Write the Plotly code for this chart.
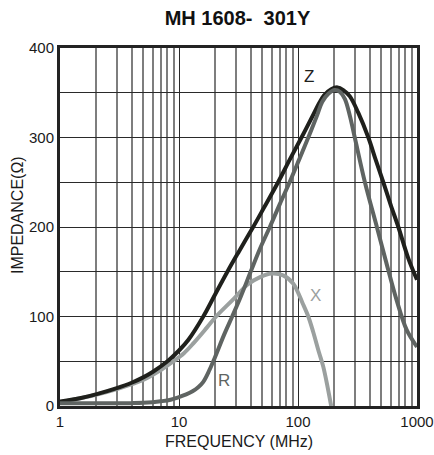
import numpy as np
import plotly.graph_objects as go

# Impedance curves (frequency in MHz, ohms)
freq_z = [1, 1.5, 2, 3, 4, 5, 6, 8, 10, 12, 16, 20, 25.5, 32, 42, 52, 68, 85, 107, 135,
          150, 165, 190, 215, 240, 273, 320, 390, 450, 521, 600, 697, 845, 1000]
imp_z = [5, 9, 13, 20, 26, 32, 38, 50, 62, 74, 100, 124, 150, 173, 200, 222, 250, 275, 300, 326,
         338, 347, 354, 356, 353, 346, 328, 300, 275, 250, 225, 200, 165, 141]

freq_r = [1, 2, 3, 4, 5, 6, 7, 8.5, 10, 11.5, 13, 14.5, 16, 18, 20, 24, 28, 33, 40, 48, 58,
          70, 85, 102, 122, 145, 160, 180, 204, 225, 248, 273, 300, 365, 460, 545, 675, 819, 1000]
imp_r = [3, 3, 3, 3.2, 3.5, 4.2, 5.2, 7, 10, 13, 16.5, 21, 27, 40, 54, 80, 100, 122, 150, 176, 200,
         225, 250, 275, 300, 325, 340, 349, 353, 351, 343, 324, 300, 250, 200, 163, 118, 85, 66]

freq_x = [1, 2, 3, 5, 7, 9, 11, 13.2, 17, 20.5, 28, 38, 48, 60, 75, 91, 110, 122,
          134, 150, 163, 178, 190]
imp_x = [4, 12.5, 19, 29, 40, 50, 59, 70, 87, 100, 118, 136, 144, 148, 146, 137, 114, 100,
         83, 60, 44, 20, 0]

curve_labels = ["Z", "X", "R"]
label_freq = [124, 139, 23.9]
label_imp = [368, 124, 28]

x_ticks = [1, 10, 100, 1000]
x_minor = [m * d for d in (1, 10, 100) for m in range(2, 10)]

C_Z = "#1f201c"
C_R = "#5f6462"
C_X = "#9ba09f"
FONT = "Liberation Sans, Arial, sans-serif"

fig = go.Figure()
fig.add_trace(go.Scatter(x=freq_x, y=imp_x, mode="lines", line=dict(color=C_X, width=4, shape="spline", smoothing=1)))
fig.add_trace(go.Scatter(x=freq_z, y=imp_z, mode="lines", line=dict(color=C_Z, width=4, shape="spline", smoothing=1)))
fig.add_trace(go.Scatter(x=freq_r, y=imp_r, mode="lines", line=dict(color=C_R, width=4, shape="spline", smoothing=1)))

for txt, f, v, c in zip(curve_labels, label_freq, label_imp, [C_Z, C_X, C_R]):
    fig.add_annotation(x=np.log10(f), y=v, text=txt, showarrow=False,
                       font=dict(family=FONT, size=17, color=c))

fig.update_xaxes(type="log", range=[0, 3], tickvals=x_ticks, ticktext=["1", "10", "100", "1000"],
                 showgrid=True, gridcolor="#2a2a2a", gridwidth=1.3,
                 minor=dict(tickvals=x_minor, showgrid=True, gridcolor="#7e7e7e", gridwidth=1.5),
                 showline=True, mirror=True, linecolor="#232323", linewidth=3, automargin=False,
                 ticks="", tickfont=dict(family=FONT, size=15, color="#1a1a1a"), zeroline=False)
fig.update_yaxes(range=[0, 400], dtick=100, showgrid=True, gridcolor="#2a2a2a", gridwidth=1.3,
                 minor=dict(dtick=50, showgrid=True, gridcolor="#2a2a2a", gridwidth=1.3),
                 showline=True, mirror=True, linecolor="#232323", linewidth=3, automargin=False,
                 ticks="", tickfont=dict(family=FONT, size=15, color="#1a1a1a"), zeroline=False)

fig.add_annotation(xref="paper", yref="paper", x=0.5, y=-0.098, yanchor="middle",
                   text="FREQUENCY (MHz)", showarrow=False,
                   font=dict(family=FONT, size=16, color="#1a1a1a"))
fig.add_annotation(xref="paper", yref="paper", x=-0.117, y=0.534, xanchor="center",
                   yanchor="middle", textangle=-90,
                   text="IMPEDANCE(\u03a9)", showarrow=False,
                   font=dict(family=FONT, size=16, color="#1a1a1a"))

fig.update_layout(
    width=434, height=455,
    margin=dict(l=60, r=17, t=48, b=49, autoexpand=False),
    paper_bgcolor="white", plot_bgcolor="white",
    showlegend=False, hovermode=False,
    title=dict(text="<b>MH 1608-\u00a0 301Y</b>", x=237.5 / 434, xanchor="center",
               y=1 - 17.5 / 455, yanchor="middle",
               font=dict(family=FONT, size=20, color="#111")),
)

# drop the default page margin so the figure fills the window exactly
fig.write_html("out.html", config={"displayModeBar": False},
               post_script="document.body.style.margin='0';document.body.style.overflow='hidden';")
